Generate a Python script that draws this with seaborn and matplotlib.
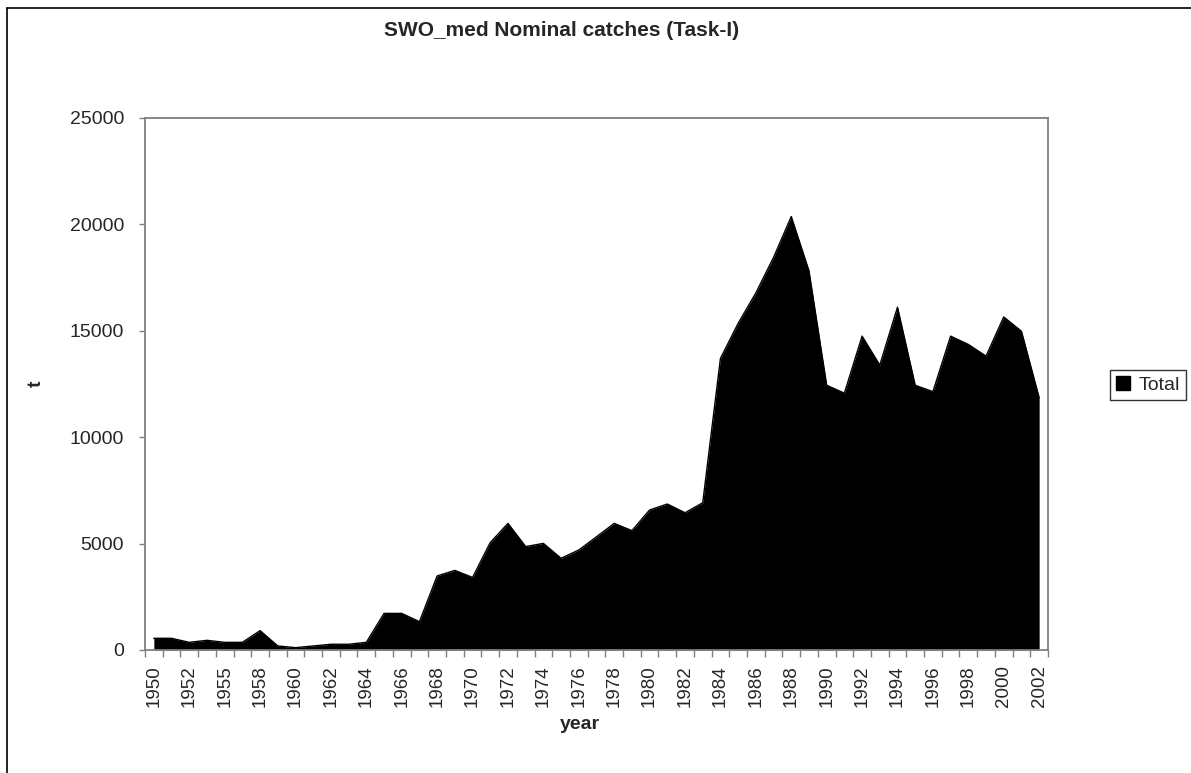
import matplotlib
matplotlib.use("Agg")
import matplotlib.pyplot as plt
import matplotlib.lines as mlines
import seaborn as sns
import pandas as pd

# datos de capturas nominales (t)
years = [1950, 1951, 1952, 1953, 1955, 1956, 1958, 1959, 1960, 1961,
         1962, 1963, 1964, 1965, 1966, 1967, 1968, 1969, 1970, 1971,
         1972, 1973, 1974, 1975, 1976, 1977, 1978, 1979, 1980, 1981,
         1982, 1983, 1984, 1985, 1986, 1987, 1988, 1989, 1990, 1991,
         1992, 1993, 1994, 1995, 1996, 1997, 1998, 1999, 2000, 2001,
         2002]
total = [550, 550, 360, 455, 360, 360, 910, 190, 110, 190,
         270, 270, 360, 1720, 1720, 1330, 3480, 3740, 3410, 5050,
         5950, 4860, 5010, 4310, 4700, 5320, 5950, 5610, 6580, 6860,
         6450, 6920, 13700, 15350, 16780, 18450, 20370, 17820, 12440, 12070,
         14750, 13390, 16110, 12440, 12140, 14750, 14360, 13810, 15650, 14980,
         11860]
y_ticks = [0, 5000, 10000, 15000, 20000, 25000]

df = pd.DataFrame({"pos": range(len(years)), "year": years, "total": total})

sns.set_style("white")
plt.rcParams["font.family"] = ["Liberation Sans", "DejaVu Sans"]

W, H = 1191, 773
fig = plt.figure(figsize=(W / 100, H / 100), dpi=100)
ax = fig.add_axes([145 / W, 1 - 650 / H, (1048 - 145) / W, (650 - 118) / H])

# Area
sns.lineplot(data=df, x="pos", y="total", color="black", linewidth=1, ax=ax)
ax.fill_between(df["pos"], 0, df["total"], color="black", linewidth=0)

ax.set_xlim(-0.5, len(years) - 0.5)
ax.set_ylim(0, 25000)

# Ejes
ax.set_xticks(df["pos"][::2])
ax.set_xticklabels([str(y) for y in years[::2]], rotation=90, fontsize=13.5)
ax.set_xticks([i - 0.5 for i in range(len(years) + 1)], minor=True)
ax.tick_params(axis="x", which="major", length=0, pad=11)
ax.tick_params(axis="x", which="minor", length=5, width=1, color="#808080", direction="out", bottom=True)
ax.set_yticks(y_ticks)
ax.set_yticklabels([str(v) for v in y_ticks], fontsize=14)
ax.tick_params(axis="y", length=4, width=1, color="#808080", direction="out", left=True, pad=11)

for s in ax.spines.values():
    s.set_color("#808080")
    s.set_linewidth(1.3)

ax.set_xlabel("year", fontsize=14, weight="bold", labelpad=6)
ax.xaxis.label.set_x((580 - 145) / (1048 - 145))
ax.set_ylabel("t", fontsize=14, weight="bold", rotation=90)
ax.yaxis.set_label_coords(-(145 - 45) / (1048 - 145), 0.5)

fig.text(562 / W, 1 - 31 / H, "SWO_med Nominal catches (Task-I)", fontsize=15,
         weight="bold", ha="center", va="center")

# Leyenda
handle = mlines.Line2D([], [], color="black", marker="s", linestyle="none", markersize=10)
leg = fig.legend([handle], ["Total"], loc="center right", bbox_to_anchor=(1186 / W, 1 - 385 / H),
                 fontsize=14, frameon=True, fancybox=False, handlelength=0.8,
                 handletextpad=0.4, borderpad=0.3, borderaxespad=0)
leg.get_frame().set_edgecolor("black")
leg.get_frame().set_linewidth(1)

# Borde exterior
fig.add_artist(mlines.Line2D([7 / W, 7 / W], [0, 1 - 8 / H], color="black", linewidth=1.2,
                             transform=fig.transFigure))
fig.add_artist(mlines.Line2D([7 / W, 1], [1 - 8 / H, 1 - 8 / H], color="black", linewidth=1.2,
                             transform=fig.transFigure))

plt.savefig("out.png", dpi=100)
